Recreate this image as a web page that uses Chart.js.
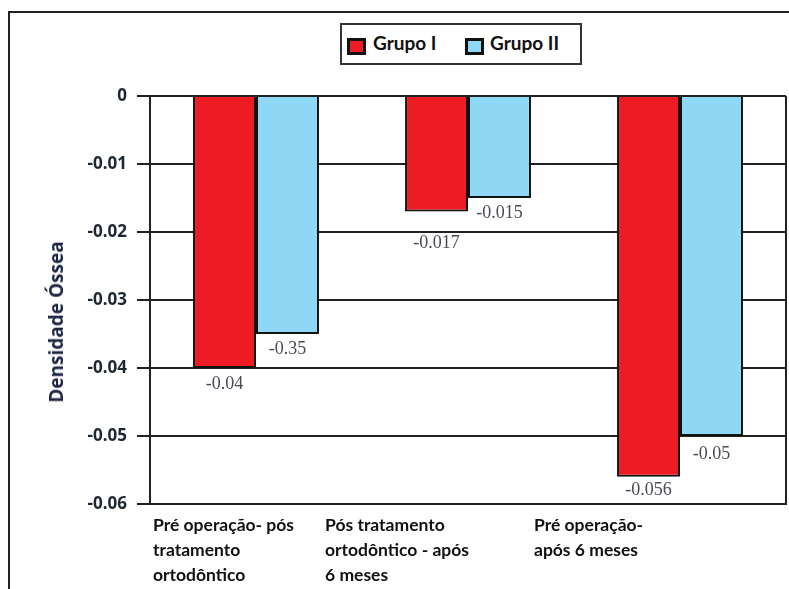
<!DOCTYPE html>
<html>
<head>
<meta charset="utf-8">
<script src="https://cdn.jsdelivr.net/npm/chart.js@4.4.1/dist/chart.umd.min.js"></script>
<style>
  html, body { margin: 0; padding: 0; background: #fff; }
  #wrap { position: relative; width: 789px; height: 589px; overflow: hidden; }
  #frame { position: absolute; left: 8px; top: 11px; width: 800px; height: 600px;
           border-left: 2px solid #222; border-top: 2px solid #222; }
  #legend { position: absolute; left: 340px; top: 23px; width: 238px; height: 38px;
            border: 2px solid #333; background: #fff; }
  .sw { position: absolute; top: 13px; width: 13px; height: 11px; border: 3px solid #111; }
  .lt { position: absolute; top: 6px; font: bold 19px Lato, sans-serif; color: #111; white-space: nowrap; }
  #ytitle { position: absolute; left: 56px; top: 322px; transform: translate(-50%, -50%) rotate(-90deg);
            font: bold 19px "Open Sans", sans-serif; color: #1c2541; white-space: nowrap; }
  canvas { position: absolute; left: 0; top: 0; }
</style>
</head>
<body>
<div id="wrap">
  <canvas id="c" width="789" height="589"></canvas>
  <div id="frame"></div>
  <div id="legend">
    <div class="sw" id="sw1" style="left:5px;"></div><div class="lt" id="lt1" style="left:31px;"></div>
    <div class="sw" id="sw2" style="left:123px;"></div><div class="lt" id="lt2" style="left:148px;"></div>
  </div>
  <div id="ytitle"></div>
</div>
<script>
// ---- data ----
const categories = [
  ["Pré operação- pós", "tratamento", "ortodôntico"],
  ["Pós tratamento", "ortodôntico - após", "6 meses"],
  ["Pré operação-", "após 6 meses"]
];
const seriesNames = ["Grupo I", "Grupo II"];
const grupoI = [-0.04, -0.017, -0.056];
const grupoII = [-0.035, -0.015, -0.05];
const grupoILabels = ["-0.04", "-0.017", "-0.056"];
const grupoIILabels = ["-0.35", "-0.015", "-0.05"];
const yTitle = "Densidade Óssea";

// ---- style ----
const colors = ["#ed1c24", "#8ed8f6"];
const xLabelOffsets = [-103, -143, -146];
const labelGapI = [16, 32, 13];
const labelGapII = [15, 15, 18];

document.getElementById('lt1').textContent = seriesNames[0];
document.getElementById('lt2').textContent = seriesNames[1];
document.getElementById('sw1').style.background = colors[0];
document.getElementById('sw2').style.background = colors[1];
document.getElementById('ytitle').textContent = yTitle;

const valueLabelPlugin = {
  id: 'valueLabels',
  afterDatasetsDraw(chart) {
    const ctx = chart.ctx;
    ctx.save();
    ctx.font = '18px "Liberation Serif", serif';
    ctx.fillStyle = '#4a4a55';
    ctx.textAlign = 'center';
    ctx.textBaseline = 'middle';
    chart.data.datasets.forEach((ds, di) => {
      const meta = chart.getDatasetMeta(di);
      meta.data.forEach((el, i) => {
        ctx.fillText(ds.valueLabels[i], el.x, el.y + ds.labelGap[i]);
      });
    });
    ctx.restore();
  }
};

const xLabelPlugin = {
  id: 'xLabels',
  afterDraw(chart) {
    const ctx = chart.ctx;
    const xs = chart.scales.x;
    ctx.save();
    ctx.font = 'bold 17.5px Lato, sans-serif';
    ctx.fillStyle = '#111';
    ctx.textAlign = 'left';
    ctx.textBaseline = 'middle';
    categories.forEach((lines, i) => {
      const x = xs.getPixelForValue(i) + xLabelOffsets[i];
      lines.forEach((ln, j) => {
        ctx.fillText(ln, x, chart.chartArea.bottom + 21 + j * 25);
      });
    });
    // right border of plot
    ctx.strokeStyle = '#222';
    ctx.lineWidth = 2;
    ctx.beginPath();
    ctx.moveTo(chart.chartArea.right, chart.chartArea.top);
    ctx.lineTo(chart.chartArea.right, chart.chartArea.bottom);
    ctx.stroke();
    ctx.restore();
  }
};

new Chart(document.getElementById('c'), {
  type: 'bar',
  data: {
    labels: categories,
    datasets: [
      { label: seriesNames[0], data: grupoI, valueLabels: grupoILabels, labelGap: labelGapI,
        backgroundColor: colors[0], borderColor: '#111', borderWidth: 2 },
      { label: seriesNames[1], data: grupoII, valueLabels: grupoIILabels, labelGap: labelGapII,
        backgroundColor: colors[1], borderColor: '#111', borderWidth: 2 }
    ]
  },
  options: {
    responsive: false,
    animation: false,
    devicePixelRatio: 1,
    layout: { padding: { left: 0, top: 96, right: 3, bottom: 77 } },
    datasets: { bar: { categoryPercentage: 0.594, barPercentage: 1 } },
    plugins: { legend: { display: false }, tooltip: { enabled: false } },
    scales: {
      x: {
        grid: { display: false },
        ticks: { display: false },
        border: { display: true, color: '#222', width: 2 }
      },
      y: {
        min: -0.06, max: 0,
        ticks: { stepSize: 0.01, padding: 10, color: '#1f2633',
                 font: { family: '"Open Sans", sans-serif', size: 17, weight: 'bold' } },
        grid: { color: '#222', lineWidth: 2, tickLength: 13 },
        border: { display: true, color: '#222', width: 2 },
        afterFit(scale) { scale.width = 150; }
      }
    }
  },
  plugins: [valueLabelPlugin, xLabelPlugin]
});
</script>
</body>
</html>
